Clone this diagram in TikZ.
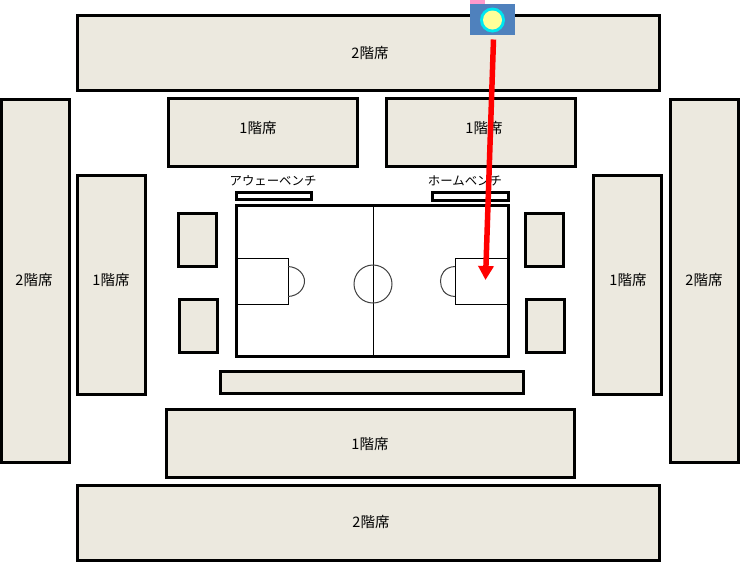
\documentclass[tikz,border=0pt]{standalone}
\usepackage{fontspec}
\setmainfont{Noto Sans CJK JP}
\usetikzlibrary{arrows.meta}
\definecolor{seat}{RGB}{236,233,223}
\definecolor{cambody}{RGB}{79,129,189}
\definecolor{camtop}{RGB}{255,153,204}
\definecolor{lensring}{RGB}{0,230,240}
\definecolor{lens}{RGB}{255,255,153}
\tikzset{
  x=1pt,y=-1pt,
  seatbox/.style={draw=black,line width=3pt,fill=seat},
  seatlabel/.style={inner sep=0pt,font=\fontsize{14.5}{16}\selectfont},
  benchbox/.style={draw=black,line width=3pt,fill=white},
  pitchbox/.style={draw=black,line width=3pt,fill=white},
  markline/.style={draw=black,line width=1pt},
  arcline/.style={draw=black!75,line width=1pt},
  benchlabel/.style={inner sep=0pt,font=\fontsize{12.4}{15}\selectfont},
  shot/.style={draw=red,line width=5.5pt,-{Triangle[length=14pt,width=15pt]}}
}
\begin{document}
\begin{tikzpicture}
\useasboundingbox (0,0) rectangle (740,563);
% upper tier
\path[seatbox] (77.5,15.5) rectangle (659,90);
\path[seatbox] (1.5,99.5) rectangle (69,462);
\path[seatbox] (670.5,99.5) rectangle (738,462);
\path[seatbox] (77.5,485.5) rectangle (659,560);
\node[seatlabel] (top2) at (370,53) {2階席};
\node[seatlabel] (left2) at (34,280) {2階席};
\node[seatlabel] (right2) at (704,280) {2階席};
\node[seatlabel] (bot2) at (371,522) {2階席};
% lower tier
\path[seatbox] (168.5,98) rectangle (357,166);
\path[seatbox] (386.5,98) rectangle (575,166);
\path[seatbox] (77.5,175.5) rectangle (145,394);
\path[seatbox] (593.5,175.5) rectangle (661,394);
\path[seatbox] (166.5,409) rectangle (574,477);
\node[seatlabel] (upl1) at (258,128) {1階席};
\node[seatlabel] (upr1) at (484,128) {1階席};
\node[seatlabel] (left1) at (111,280) {1階席};
\node[seatlabel] (right1) at (628,280) {1階席};
\node[seatlabel] (bot1) at (370,444) {1階席};
% strip and small stands
\path[seatbox] (220.5,371) rectangle (523,393);
\path[seatbox] (178,213) rectangle (216.5,266.5);
\path[seatbox] (179,299) rectangle (217.5,352.5);
\path[seatbox] (525,213) rectangle (563.5,266.5);
\path[seatbox] (526,299) rectangle (564.5,352.5);
% benches
\path[benchbox] (236.5,192) rectangle (311,199);
\path[benchbox] (432.5,192) rectangle (508,200);
\node[benchlabel] (awaylabel) at (273,181) {アウェーベンチ};
\node[benchlabel] (homelabel) at (465,181) {ホームベンチ};
% pitch
\path[pitchbox] (236.5,205.5) rectangle (508,356);
\draw[markline] (373,206) -- (373,356);
\draw[arcline] (373,284) circle (19);
\draw[markline] (237,258) rectangle (288,304);
\draw[markline] (455,258) rectangle (507,304);
\draw[arcline] (288,266.5) .. controls (299,267) and (304.5,275) .. (304.5,281) .. controls (304.5,288) and (299,296) .. (288,296.5);
\draw[arcline] (455,266.5) .. controls (444,267) and (440.5,275) .. (440.5,281) .. controls (440.5,288) and (444,296) .. (455,296.5);
\draw[pitchbox,fill=none] (236.5,205.5) rectangle (508,356);
% camera
\fill[camtop] (470,0) rectangle (485,4);
\node[fill=cambody,minimum width=45pt,minimum height=31pt,inner sep=0pt,anchor=north west] (camera) at (470,4) {};
\fill[lensring] (492.5,20) circle (12.5);
\fill[lens] (492.5,20) circle (9.5);
\coordinate (shotstart) at (493.5,39.5);
\coordinate (shotend) at (485.5,280);
\draw[shot] (shotstart) -- (shotend);
\end{tikzpicture}
\end{document}
